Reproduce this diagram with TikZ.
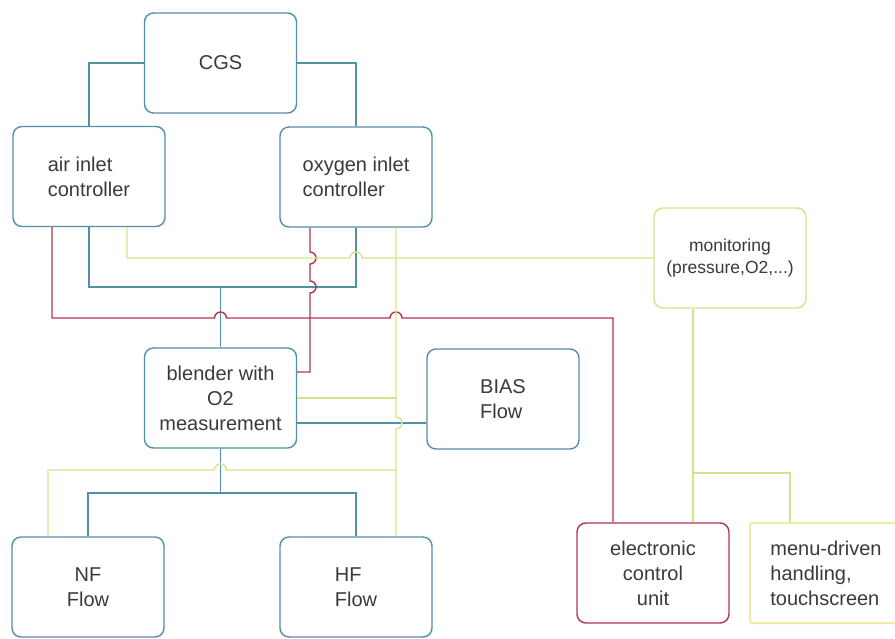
\documentclass[tikz,border=0pt]{standalone}
\usepackage{fontspec}
\setmainfont{Liberation Sans}
\usepackage{tikz}
\usetikzlibrary{calc}
\definecolor{PipeBlue}{HTML}{5290A6}
\definecolor{WireRed}{HTML}{B3354F}
\definecolor{SignalYellow}{HTML}{D8E28C}
\definecolor{MenuYellow}{HTML}{EFEAA6}
\definecolor{InkGrey}{HTML}{3A3A3A}
\tikzset{
  unitbox/.style={draw=PipeBlue,line width=1.4pt,rounded corners=9pt,fill=white,
    minimum width=152pt,minimum height=100pt,inner sep=0pt,text=InkGrey,
    font=\fontsize{20}{25}\selectfont},
  redbox/.style={unitbox,draw=WireRed},
  yellowbox/.style={unitbox,draw=SignalYellow},
  menubox/.style={unitbox,draw=MenuYellow,line width=2pt,rounded corners=2pt},
  blueline/.style={draw=PipeBlue,line width=1.4pt},
  redline/.style={draw=WireRed,line width=1.4pt},
  yellowline/.style={draw=SignalYellow,line width=1.4pt},
  hopup/.style={start angle=180,end angle=0,radius=6pt},
  hopright/.style={start angle=90,end angle=-90,radius=6pt}
}

\begin{document}
\begin{tikzpicture}[x=1pt,y=1pt]
    \useasboundingbox (0,0) rectangle (895,638);

    \node[unitbox] (cgs) at (220.5,575) {CGS};
    \node[unitbox,align=left] (air) at (89,461.5) {air inlet\\controller};
    \node[unitbox,align=left] (oxy) at (356,461) {oxygen inlet\\controller};
    \node[unitbox,align=center] (blender) at (220.5,240) {blender with\\O2\\measurement};
    \node[unitbox,align=left] (bias) at (503,239) {BIAS\\Flow};
    \node[unitbox,align=center] (nf) at (88,51) {NF\\Flow};
    \node[unitbox,align=left] (hf) at (356,51) {HF\\Flow};
    \node[yellowbox,align=center,font=\fontsize{17.5}{22}\selectfont] (mon) at (730,380) {monitoring\\(pressure,O2,...)};
    \node[redbox,align=center] (ecu) at (653,65) {electronic\\control\\unit};
    \node[menubox,align=left] (menu) at (826,65) {menu-driven\\handling,\\touchscreen};

    \coordinate (mix) at (220.5,351);
    \coordinate (split) at (220.5,145);
    \coordinate (bus) at (396,240);
    \coordinate (tap) at (396,168);
    \coordinate (fork) at (693,165);

    \draw[blueline] (cgs.west) -| (air.north);
    \draw[blueline] (cgs.east) -| (oxy.north);
    \draw[blueline] (air.south) |- (mix) -| (oxy.south);
    \draw[blueline] (blender.north) -- (mix);
    \draw[blueline] ([yshift=-25pt]blender.east) -- ([yshift=-24pt]bias.west);
    \draw[blueline] (blender.south) -- (split);
    \draw[blueline] (nf.north) |- (split) -| (hf.north);

    \draw[redline] ([xshift=-37pt]air.south) |- (214.5,320) arc[hopup] -- (390,320) arc[hopup] -| ([xshift=-40pt]ecu.north);
    \draw[redline] ([xshift=-46pt]oxy.south) -- (310,386) arc[hopright] -- (310,357) arc[hopright] |- ([yshift=26pt]blender.east);

    \draw[yellowline] ([xshift=38pt]air.south) |- (350,380) arc[hopup] -- (mon.west);
    \draw[yellowline] ([xshift=40pt]oxy.south) -- (396,221) arc[hopright] -- ([xshift=40pt]hf.north);
    \draw[yellowline] (blender.east) -- (bus);
    \draw[yellowline] ([xshift=-40pt]nf.north) |- (214.5,168) arc[hopup] -- (tap);
    \draw[yellowline] ([xshift=-37pt]mon.south) -- ([xshift=40pt]ecu.north);
    \draw[yellowline] (fork) -| ([xshift=-36pt]menu.north);
\end{tikzpicture}
\end{document}
